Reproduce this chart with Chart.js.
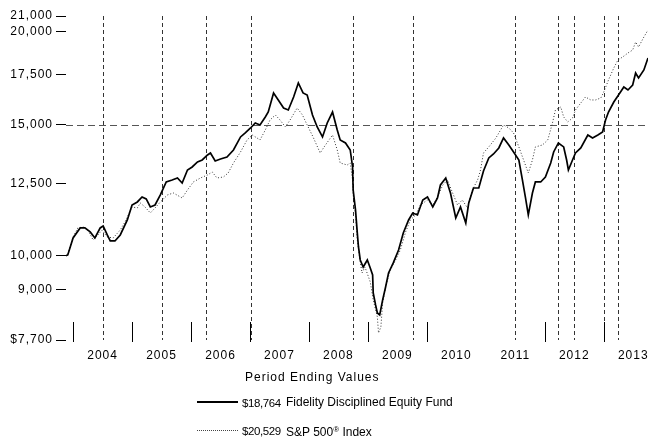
<!DOCTYPE html>
<html>
<head>
<meta charset="utf-8">
<script src="https://cdn.jsdelivr.net/npm/chart.js@4/dist/chart.umd.min.js"></script>
<style>
  html, body { margin: 0; padding: 0; background: #fff; }
  #wrap { position: relative; width: 648px; height: 440px; overflow: hidden;
          font: 12px "Liberation Sans", Arial, sans-serif; color: #000; }
  canvas { position: absolute; left: 0; top: 0; }
  .txt { position: absolute; white-space: nowrap; line-height: 14px; }
  .title { letter-spacing: 1px; }
  .amt { letter-spacing: -0.4px; font-size: 11.5px; }
  .sample { position: absolute; width: 41px; height: 0; }
  .reg { font-size: 8px; vertical-align: 4px; }
</style>
</head>
<body>
<div id="wrap">
  <canvas id="growth" width="648" height="440"></canvas>
  <div class="txt title" style="left:245px;top:370px">Period Ending Values</div>
  <div class="sample" style="left:197px;top:401px;border-top:2px solid #000"></div>
  <div class="txt amt" style="left:242px;top:396px">$18,764</div>
  <div class="txt" style="left:286px;top:395px">Fidelity Disciplined Equity Fund</div>
  <div class="sample" style="left:197px;top:430px;border-top:1px dotted #444"></div>
  <div class="txt amt" style="left:242px;top:424px">$20,529</div>
  <div class="txt" style="left:286px;top:423px">S&amp;P 500<span class="reg">®</span> Index</div>
</div>
<script>
// dates as decimal years, values in dollars (growth of $10,000)
const fundDates = [2003.88, 2003.91, 2004.00, 2004.12, 2004.20, 2004.29, 2004.37, 2004.46, 2004.51, 2004.58,
  2004.63, 2004.71, 2004.80, 2004.92, 2005.00, 2005.09, 2005.17, 2005.24, 2005.31, 2005.39,
  2005.48, 2005.58, 2005.68, 2005.77, 2005.85, 2005.94, 2006.02, 2006.11, 2006.19, 2006.28,
  2006.33, 2006.41, 2006.50, 2006.61, 2006.72, 2006.84, 2006.92, 2007.01, 2007.09, 2007.17,
  2007.26, 2007.31, 2007.40, 2007.48, 2007.57, 2007.65, 2007.74, 2007.82, 2007.90, 2007.97,
  2008.06, 2008.14, 2008.23, 2008.31, 2008.40, 2008.48, 2008.53, 2008.62, 2008.70, 2008.74,
  2008.75, 2008.79, 2008.82, 2008.84, 2008.87, 2008.92, 2008.99, 2009.04, 2009.08, 2009.09,
  2009.13, 2009.16, 2009.20, 2009.25, 2009.30, 2009.35, 2009.43, 2009.52, 2009.60, 2009.69,
  2009.76, 2009.84, 2009.93, 2010.01, 2010.10, 2010.18, 2010.23, 2010.32, 2010.40, 2010.49,
  2010.57, 2010.66, 2010.71, 2010.79, 2010.88, 2010.96, 2011.05, 2011.13, 2011.22, 2011.30,
  2011.39, 2011.47, 2011.56, 2011.62, 2011.67, 2011.72, 2011.79, 2011.84, 2011.93, 2012.01,
  2012.10, 2012.15, 2012.23, 2012.32, 2012.37, 2012.40, 2012.47, 2012.52, 2012.61, 2012.73,
  2012.81, 2012.90, 2012.98, 2013.03, 2013.08, 2013.17, 2013.25, 2013.34, 2013.41, 2013.49,
  2013.54, 2013.59, 2013.68, 2013.75];
const fundValues = [10000, 10020, 10561, 10894, 10894, 10760, 10561, 10894, 10961, 10660,
  10464, 10464, 10660, 11166, 11697, 11807, 11991, 11917, 11625, 11697,
  12065, 12561, 12639, 12717, 12522, 13036, 13158, 13363, 13446, 13656,
  13742, 13405, 13488, 13571, 13869, 14439, 14618, 14846, 15078, 14985,
  15361, 15599, 16546, 16191, 15795, 15697, 16342, 17065, 16546, 16443,
  15456, 14893, 14439, 15078, 15599, 14755, 14305, 14173, 13869, 13158,
  12253, 11517, 10727, 10271, 9866, 9653, 9866, 9624, 9418, 8908,
  8583, 8373, 8321, 8717, 9075, 9477, 9775, 10176, 10727, 11166,
  11411, 11341, 11880, 11991, 11625, 11954, 12444, 12717, 12140, 11236,
  11625, 11063, 11770, 12329, 12329, 12995, 13530, 13698, 13956, 14393,
  14085, 13784, 13446, 12639, 11991, 11341, 12140, 12561, 12561, 12756,
  13321, 13784, 14173, 14000, 13446, 13036, 13446, 13742, 13956, 14528,
  14393, 14528, 14663, 15218, 15599, 16091, 16443, 16856, 16700, 16960,
  17603, 17332, 17767, 18438];

const indexDates = [2003.88, 2003.91, 2004.00, 2004.08, 2004.17, 2004.25, 2004.34, 2004.42, 2004.49, 2004.58,
  2004.68, 2004.80, 2004.88, 2005.00, 2005.09, 2005.14, 2005.22, 2005.31, 2005.39, 2005.48,
  2005.60, 2005.70, 2005.85, 2005.94, 2006.04, 2006.16, 2006.28, 2006.36, 2006.44, 2006.55,
  2006.63, 2006.72, 2006.84, 2006.95, 2007.04, 2007.12, 2007.17, 2007.26, 2007.34, 2007.43,
  2007.51, 2007.60, 2007.68, 2007.80, 2007.89, 2007.97, 2008.07, 2008.19, 2008.28, 2008.40,
  2008.48, 2008.53, 2008.65, 2008.70, 2008.74, 2008.75, 2008.79, 2008.82, 2008.87, 2008.90,
  2008.95, 2009.04, 2009.09, 2009.16, 2009.18, 2009.22, 2009.25, 2009.30, 2009.38, 2009.47,
  2009.55, 2009.64, 2009.72, 2009.81, 2009.89, 2010.01, 2010.10, 2010.18, 2010.27, 2010.35,
  2010.43, 2010.52, 2010.60, 2010.69, 2010.77, 2010.86, 2010.91, 2010.96, 2011.05, 2011.17,
  2011.25, 2011.30, 2011.39, 2011.47, 2011.56, 2011.64, 2011.72, 2011.79, 2011.84, 2011.96,
  2012.05, 2012.13, 2012.18, 2012.27, 2012.32, 2012.39, 2012.47, 2012.52, 2012.61, 2012.69,
  2012.78, 2012.86, 2012.95, 2013.00, 2013.08, 2013.17, 2013.24, 2013.32, 2013.41, 2013.49,
  2013.54, 2013.59, 2013.68, 2013.75];
const indexValues = [10000, 10020, 10594, 10894, 10928, 10826, 10496, 10660, 10826, 10594,
  10561, 10826, 11097, 11625, 11589, 11770, 11625, 11411, 11589, 11807,
  12065, 12140, 11954, 12253, 12561, 12717, 12836, 12955, 12717, 12756,
  12915, 13321, 13784, 14305, 14528, 14393, 14305, 14755, 15218, 15456,
  15218, 14893, 15218, 15795, 15456, 14985, 14439, 13742, 14085, 14528,
  13869, 13321, 13239, 13321, 12639, 12065, 11341, 10496, 9805, 9477,
  9653, 9216, 8717, 8270, 7870, 8017, 8636, 9075, 9565, 9866,
  10176, 10760, 11166, 11341, 11697, 11880, 11697, 11991, 12444, 12639,
  12178, 11697, 11880, 11589, 12253, 12639, 13036, 13742, 14000, 14393,
  14755, 14985, 14846, 14618, 14000, 13446, 12915, 13446, 14000, 14085,
  14305, 15078, 15697, 15844, 15361, 15125, 15313, 15697, 16041, 16342,
  16191, 16191, 16292, 16597, 17225, 17877, 18325, 18496, 18727, 18902,
  19376, 19078, 19677, 20109];

const yTicks = [7700, 9000, 10000, 12500, 15000, 17500, 20000, 21000];
const yearLabels = [2004, 2005, 2006, 2007, 2008, 2009, 2010, 2011, 2012, 2013];
const yearMarks = [2004, 2005, 2006, 2007, 2008, 2009, 2010, 2012, 2013];
const eventDates = [2004.51, 2005.51, 2006.26, 2007.02, 2008.75, 2009.76, 2011.49, 2012.23, 2012.49, 2013.0, 2013.24];
const refLevel = 15000;

const refLines = {
  id: 'refLines',
  beforeDraw(chart) { chart.ctx.letterSpacing = '1px'; },
  beforeDatasetsDraw(chart) {
    const { ctx, chartArea: a, scales: { x, y } } = chart;
    ctx.save();
    ctx.lineWidth = 1;
    ctx.strokeStyle = '#555';
    ctx.setLineDash([7, 4]);
    const hy = Math.round(y.getPixelForValue(refLevel)) + 0.5;
    ctx.beginPath(); ctx.moveTo(a.left, hy); ctx.lineTo(chart.width, hy); ctx.stroke();
    ctx.strokeStyle = '#333';
    ctx.setLineDash([4, 3]);
    eventDates.forEach(d => {
      const px = Math.round(x.getPixelForValue(d)) + 0.5;
      ctx.beginPath(); ctx.moveTo(px, a.top); ctx.lineTo(px, a.bottom); ctx.stroke();
    });
    ctx.setLineDash([]);
    ctx.strokeStyle = '#000';
    yearMarks.forEach(d => {
      const px = Math.round(x.getPixelForValue(d)) + 0.5;
      ctx.beginPath(); ctx.moveTo(px, a.bottom - 18); ctx.lineTo(px, a.bottom + 2); ctx.stroke();
    });
    ctx.restore();
  }
};

Chart.defaults.font.family = '"Liberation Sans", Arial, sans-serif';
Chart.defaults.font.size = 12;
Chart.defaults.color = '#000';

new Chart(document.getElementById('growth'), {
  type: 'line',
  data: {
    datasets: [{
      label: 'Fidelity Disciplined Equity Fund',
      data: fundDates.map((d, i) => ({ x: d, y: fundValues[i] })),
      borderColor: '#000',
      borderWidth: 1.7,
      pointRadius: 0,
      tension: 0
    }, {
      label: 'S&P 500® Index',
      data: indexDates.map((d, i) => ({ x: d, y: indexValues[i] })),
      borderColor: '#333',
      borderWidth: 1,
      borderDash: [1, 2],
      pointRadius: 0,
      tension: 0
    }]
  },
  options: {
    responsive: false,
    animation: false,
    layout: { padding: { left: 0, right: 0, top: 16, bottom: 70 } },
    plugins: { legend: { display: false }, tooltip: { enabled: false } },
    scales: {
      x: {
        type: 'linear',
        min: 2003.88,
        max: 2013.75,
        afterBuildTicks: s => { s.ticks = yearLabels.map(v => ({ value: v + 0.5 })); },
        afterFit: s => { s.height = 30; },
        grid: { display: false },
        border: { display: false },
        ticks: { autoSkip: false, maxRotation: 0, padding: 0, callback: v => String(Math.floor(v)) }
      },
      y: {
        type: 'logarithmic',
        min: 7700,
        max: 21000,
        afterBuildTicks: s => { s.ticks = yTicks.map(v => ({ value: v })); },
        afterFit: s => { s.width = 66; },
        grid: { drawOnChartArea: false, tickLength: 10, tickColor: '#000' },
        border: { display: false },
        ticks: {
          autoSkip: false, padding: 3,
          callback: v => v === 7700 ? '$7,700' : v.toLocaleString('en-US')
        }
      }
    }
  },
  plugins: [refLines]
});
</script>
</body>
</html>
